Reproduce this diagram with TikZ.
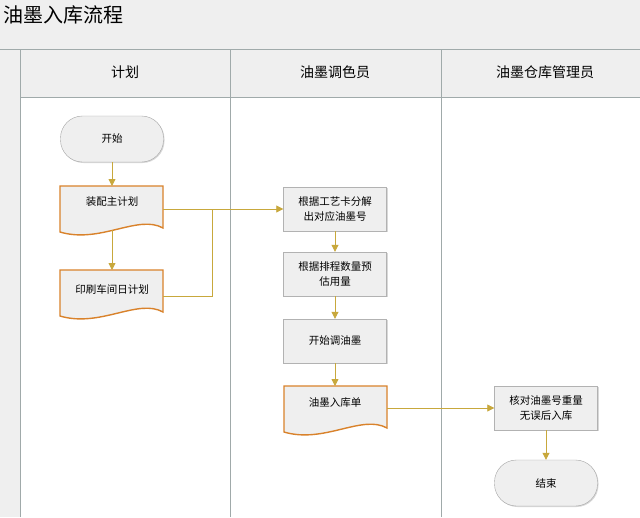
\documentclass[tikz,border=0pt]{standalone}
\usepackage{fontspec}
\newfontfamily\cjk{Noto Sans CJK SC}
\usetikzlibrary{shadows,arrows.meta}
\definecolor{gold}{HTML}{C8A83C}
\definecolor{orng}{HTML}{D9822B}
\definecolor{bandbg}{HTML}{EFEFEF}
\definecolor{lanel}{HTML}{A0AAAA}
\tikzset{
 proc/.style={draw=gray!60, fill=bandbg, minimum width=103pt, minimum height=44pt, align=center, font=\cjk\fontsize{10.5}{15}\selectfont, drop shadow={shadow xshift=1pt,shadow yshift=-1pt,opacity=0.3}},
 term/.style={draw=gray!70, fill=bandbg, rounded corners=22pt, minimum width=103pt, minimum height=46pt, font=\cjk\fontsize{10.5}{15}\selectfont, drop shadow={shadow xshift=1pt,shadow yshift=-1pt,opacity=0.3}},
 flow/.style={gold, line width=0.8pt, -{Triangle[length=7pt,width=7pt]}},
 line/.style={gold, line width=0.8pt},
 doctext/.style={font=\cjk\fontsize{10.5}{15}\selectfont, align=center},
}
\newcommand{\docshape}[4]{% x1 ytop x2 ybot
 \fill[bandbg] (#1,#2) -- (#3,#2) -- (#3,#4-8) .. controls ({#3-25},#4-22) and ({#1+40},#4+8) .. (#1,#4-4) -- cycle;
 \draw[orng, line width=1.4pt] (#1,#2) -- (#3,#2) -- (#3,#4-8) .. controls ({#3-25},#4-22) and ({#1+40},#4+8) .. (#1,#4-4) -- cycle;
}
\begin{document}
\begin{tikzpicture}[x=1pt,y=-1pt]
\useasboundingbox (0,0) rectangle (640,517);
\fill[white] (0,0) rectangle (640,517);
% title band
\fill[bandbg] (0,0) rectangle (640,49);
\node[anchor=west, font=\cjk\fontsize{20}{24}\selectfont] (title) at (0,15) {油墨入库流程};
% left strip
\fill[bandbg] (0,49) rectangle (20,517);
% header
\fill[bandbg] (20,49) rectangle (640,97);
\draw[lanel, line width=1pt] (0,49) -- (640,49);
\draw[lanel, line width=1pt] (20,97) -- (640,97);
\foreach \x in {20,230,441} \draw[lanel, line width=1pt] (\x,49) -- (\x,517);
\node[font=\cjk\fontsize{14}{17}\selectfont] (h1) at (125,72) {计划};
\node[font=\cjk\fontsize{14}{17}\selectfont] (h2) at (335,72) {油墨调色员};
\node[font=\cjk\fontsize{14}{17}\selectfont] (h3) at (545,72) {油墨仓库管理员};
% docs
\docshape{60}{186}{163}{236}
\node[doctext, minimum width=103pt, minimum height=20pt] (zp) at (112,202) {装配主计划};
\docshape{60}{270}{163}{320}
\node[doctext, minimum width=103pt, minimum height=20pt] (yc) at (112,289) {印刷车间日计划};
\docshape{284}{386}{387}{436}
\node[doctext, minimum width=103pt, minimum height=20pt] (rk) at (335,403) {油墨入库单};
% nodes
\node[term] (start) at (112,139) {开始};
\node[proc] (s1) at (335,209) {根据工艺卡分解\\出对应油墨号};
\node[proc] (s2) at (335,274) {根据排程数量预\\估用量};
\node[proc] (s3) at (335,341) {开始调油墨};
\node[proc] (c1) at (546,408) {核对油墨号重量\\无误后入库};
\node[term] (end) at (546,483) {结束};
% connectors
\coordinate (zpb) at (112,230);
\coordinate (zpr) at (163,209);
\coordinate (ycr) at (163,296);
\coordinate (j) at (212,209);
\coordinate (rkr) at (387,408);
\coordinate (rkt) at (335,386);
\coordinate (zpt) at (112,186);
\coordinate (yct) at (112,270);
\draw[flow] (start) -- (zpt);
\draw[flow] (zpb) -- (yct);
\draw[flow] (zpr) -- (s1.west);
\draw[line] (ycr) -| (j);
\draw[flow] (s1) -- (s2);
\draw[flow] (s2) -- (s3);
\draw[flow] (s3) -- (rkt);
\draw[flow] (rkr) -- (c1.west);
\draw[flow] (c1) -- (end);
\end{tikzpicture}
\end{document}
